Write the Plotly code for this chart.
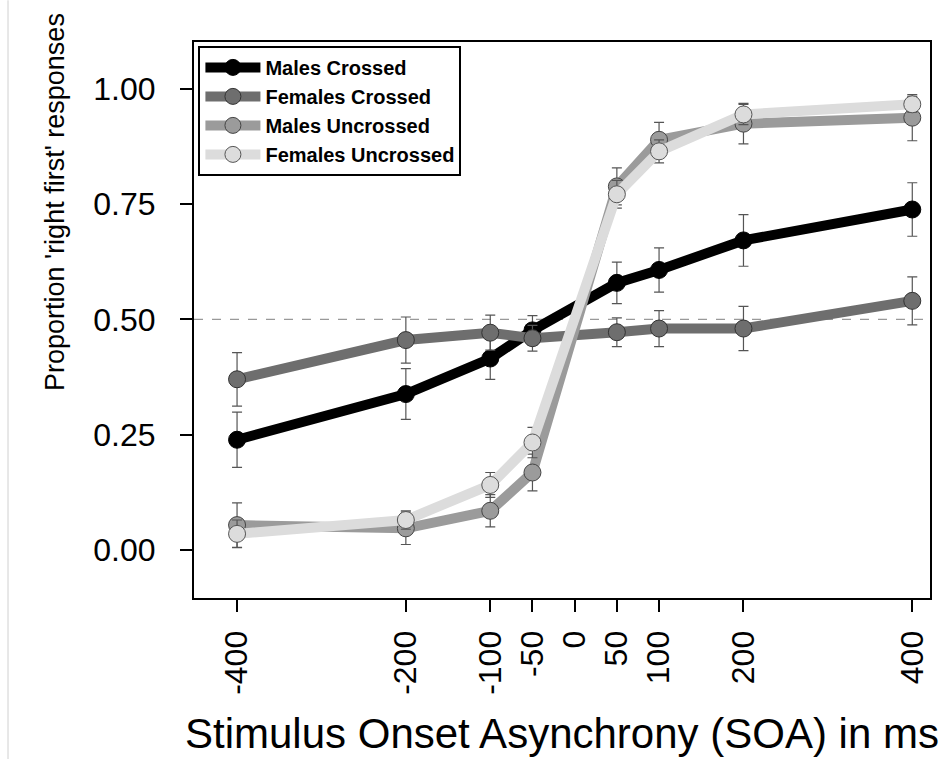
import plotly.graph_objects as go

soa = [-400, -200, -100, -50, 50, 100, 200, 400]
tick_vals = [-400, -200, -100, -50, 0, 50, 100, 200, 400]
tick_text = ["-400", "-200", "-100", "-50", "0", "50", "100", "200", "400"]

males_crossed = [0.239, 0.338, 0.415, 0.476, 0.579, 0.607, 0.671, 0.738]
males_crossed_err = [0.060, 0.055, 0.045, 0.032, 0.045, 0.048, 0.056, 0.058]

females_crossed = [0.370, 0.455, 0.471, 0.459, 0.472, 0.480, 0.480, 0.540]
females_crossed_err = [0.058, 0.050, 0.038, 0.028, 0.031, 0.039, 0.048, 0.052]

males_uncrossed = [0.054, 0.047, 0.085, 0.168, 0.788, 0.889, 0.924, 0.937]
males_uncrossed_err = [0.048, 0.035, 0.035, 0.040, 0.040, 0.038, 0.044, 0.050]

females_uncrossed = [0.035, 0.065, 0.141, 0.233, 0.771, 0.864, 0.944, 0.966]
females_uncrossed_err = [0.030, 0.020, 0.027, 0.033, 0.030, 0.025, 0.022, 0.017]

x_title = "Stimulus Onset Asynchrony (SOA) in ms"
y_title = "Proportion 'right first' responses"

series = [
    ("Males Crossed", males_crossed, males_crossed_err, "#000000", "#000000"),
    ("Females Crossed", females_crossed, females_crossed_err, "#6e6e6e", "#333333"),
    ("Males Uncrossed", males_uncrossed, males_uncrossed_err, "#9b9b9b", "#444444"),
    ("Females Uncrossed", females_uncrossed, females_uncrossed_err, "#dcdcdc", "#555555"),
]

fig = go.Figure()
for name, vals, errs, col, edge in series:
    fig.add_trace(go.Scatter(
        x=soa, y=vals, name=name, mode="lines+markers",
        line=dict(color=col, width=10),
        marker=dict(color=col, size=17, line=dict(color=edge, width=1)),
        error_y=dict(type="data", array=errs, visible=True,
                     color="#555555", thickness=1.2, width=5),
    ))

fig.add_shape(type="line", xref="paper", yref="y", x0=0, x1=1, y0=0.5, y1=0.5,
              line=dict(color="#999999", width=1.2, dash="dash"), layer="below")
fig.add_shape(type="line", xref="paper", yref="paper", x0=-0.2527, x1=-0.2527,
              y0=-0.29, y1=1.075, line=dict(color="#d0d0d0", width=1))

font_family = "Arial, Liberation Sans, sans-serif"

fig.add_annotation(text=x_title, xref="paper", yref="paper", x=0.5, y=-0.2445,
                   xanchor="center", yanchor="middle", showarrow=False,
                   font=dict(size=42, color="black", family=font_family))
fig.add_annotation(text=y_title, xref="paper", yref="paper", x=-0.1889, y=0.712,
                   xanchor="center", yanchor="middle", showarrow=False, textangle=-90,
                   font=dict(size=27, color="black", family=font_family))

fig.update_layout(
    width=951, height=759,
    margin=dict(l=194, r=21, t=42, b=161),
    plot_bgcolor="white", paper_bgcolor="white",
    font=dict(family=font_family, color="black"),
    showlegend=True,
    legend=dict(
        x=0.006, y=0.993, xanchor="left", yanchor="top",
        bordercolor="black", borderwidth=2, bgcolor="white",
        font=dict(size=20, family=font_family, color="black", weight="bold"),
        itemwidth=55, tracegroupgap=0,
    ),
    xaxis=dict(
        range=[-451, 421], tickvals=tick_vals, ticktext=tick_text,
        tickangle=-90, ticks="outside", ticklen=12, tickwidth=2, tickcolor="black",
        showline=True, linecolor="black", linewidth=2, mirror=True,
        showgrid=False, zeroline=False,
        tickfont=dict(size=32, color="black"),
        ticklabelstandoff=6,
    ),
    yaxis=dict(
        range=[-0.104, 1.101], tickvals=[0, 0.25, 0.5, 0.75, 1.0],
        ticktext=["0.00", "0.25", "0.50", "0.75", "1.00"],
        ticks="outside", ticklen=12, tickwidth=2, tickcolor="black",
        showline=True, linecolor="black", linewidth=2, mirror=True,
        showgrid=False, zeroline=False,
        tickfont=dict(size=32, color="black"),
        ticklabelstandoff=18,
    ),
)

fig.write_html("out.html")
